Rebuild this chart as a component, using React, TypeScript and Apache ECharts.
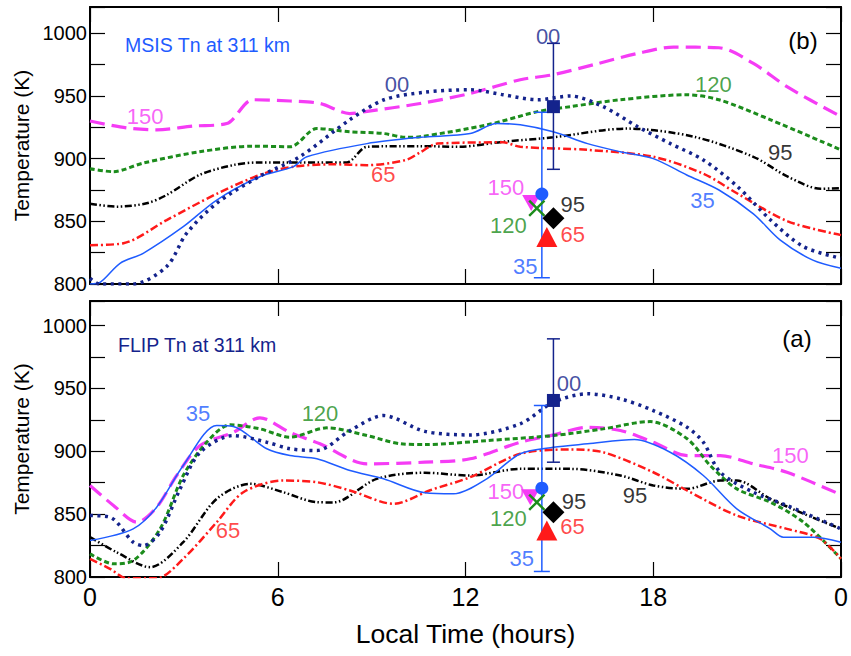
import React, { useEffect, useRef } from "react";
import * as echarts from "echarts";

// ---------- colours ----------
const MAGENTA = "#f53cf5";
const GREEN = "#1c8c1c";
const BLACK = "#000000";
const RED = "#ff1a1a";
const BLUE = "#1f5cff";
const NAVY = "#14238c";

// ---------- x axis ----------
const xTicks = [0, 6, 12, 18, 24];
const xTickLabels = ["0", "6", "12", "18", "0"];

// ---------- MSIS (top panel, b) ----------
const msis150: [number, number][] = [[0, 930], [1.17, 924.5], [2.13, 923], [3.3, 926], [4.37, 928], [5.2, 947], [6.4, 946], [7.35, 944], [8.3, 936], [8.8, 937.5], [10.55, 944], [12.15, 952], [13.75, 963], [14.8, 967], [16.1, 975], [17.5, 984], [18.65, 989], [20.1, 988.5], [21.2, 976], [22.3, 957], [24, 933.5]];
const msis120: [number, number][] = [[0, 892], [0.74, 889.6], [1.7, 896.5], [3.5, 905.5], [5.2, 910], [6.4, 909.5], [7.25, 924], [8.3, 921.5], [9.4, 920], [10.1, 917], [10.55, 917.5], [12.7, 927], [14.3, 937.5], [15.35, 941.5], [16.95, 947], [19.07, 951], [20.1, 947], [21.75, 931], [24, 907]];
const msis95: [number, number][] = [[0, 864], [0.85, 861.7], [1.81, 864.4], [2.45, 871], [3.5, 887], [4.6, 895], [5.4, 897], [6.7, 897], [8.2, 897], [8.85, 909.5], [10.55, 910], [11.8, 909.5], [13.2, 913.5], [14.8, 917], [17.15, 924], [19.3, 917.5], [21.2, 901.5], [22.3, 885.6], [23.35, 876], [24, 876.5]];
const msis65: [number, number][] = [[0, 831], [1.07, 832.5], [2.45, 851], [4.05, 872], [5.43, 887], [6.5, 893.6], [7.8, 895.5], [8.85, 894.8], [10.1, 899], [10.55, 905], [11.1, 912], [13.2, 913], [13.75, 909.5], [15.9, 907], [18, 901.5], [19.6, 888], [20.7, 872], [22.3, 850], [24, 839]];
const msis35: [number, number][] = [[0, 800], [0.3, 801], [0.96, 816.5], [1.7, 824.5], [2.98, 845.7], [4.05, 867], [5.43, 885.6], [6.5, 893.6], [6.93, 901.5], [8.85, 912], [10.55, 917], [12.15, 920], [13, 928], [13.75, 927], [14.8, 921.5], [15.9, 912], [16.95, 905.5], [18, 900], [19.07, 887], [20.1, 875], [21.2, 856], [22.06, 835], [23.1, 819], [24, 812.5]];
const msis00: [number, number][] = [[0, 804.5], [0.3, 800], [1.38, 800], [2.45, 814], [3.09, 840.5], [4.05, 864.4], [5.43, 886], [6.7, 901.5], [8.3, 931], [9.4, 947], [10.7, 953], [12.15, 955], [13.2, 951], [14.3, 947], [15.35, 950], [16.4, 941.5], [17.5, 925.5], [18.55, 912], [19.6, 899], [20.7, 877.6], [21.75, 851], [22.8, 829.8], [24, 820.5]];

// ---------- FLIP (bottom panel, a) ----------
const flip150: [number, number][] = [[0, 872.8], [0.75, 856.9], [1.5, 843.6], [2.13, 855.5], [2.77, 880.7], [3.52, 904.6], [4.58, 915], [5.43, 926.6], [6.39, 915], [7.35, 906], [8.85, 890], [10.7, 891.3], [12.15, 894], [13.75, 907.2], [14.81, 913], [15.9, 919], [16.95, 916.5], [18, 907.2], [19.08, 896.6], [20.14, 896.6], [21.2, 890], [22.27, 883.3], [24, 865.4]];
const flip120: [number, number][] = [[0, 818.4], [0.75, 810.5], [1.38, 813], [2.24, 838.3], [2.98, 880.7], [3.73, 907.2], [4.48, 921], [5.43, 917.8], [6.39, 911.2], [7.57, 918.6], [8.85, 912.5], [9.91, 906], [10.7, 905.3], [12.68, 908.5], [14.81, 912.5], [16.4, 917.8], [17.9, 923.6], [19.08, 910], [19.82, 888.7], [20.67, 870.1], [21.74, 859.5], [22.8, 843.6], [24, 814.5]];
const flip95: [number, number][] = [[0, 831.7], [0.85, 819.7], [1.92, 807.8], [2.98, 827.7], [4.05, 862.2], [5.12, 874.1], [6.18, 867.4], [7.25, 859.5], [7.78, 859.3], [9.16, 878], [10.7, 882.9], [12.15, 880.7], [13.75, 886], [15.35, 886], [16.95, 880.7], [18, 872.8], [19.08, 870.1], [20.14, 876.7], [20.67, 876.7], [21.74, 862.2], [22.8, 850.3], [24, 838.3]];
const flip65: [number, number][] = [[0, 814.5], [0.64, 806.5], [1.17, 799], [2.13, 799], [2.98, 814.5], [4.05, 843.6], [4.9, 867.4], [6.18, 876.7], [7.25, 875.4], [8.31, 868.8], [9.7, 858.2], [10.87, 869], [12.15, 879.4], [13.75, 898], [15.35, 901.4], [16.4, 899.2], [18, 883.3], [19.08, 868.8], [20.67, 848.9], [22.27, 838.3], [23.33, 830.4], [24, 814.5]];
const flip35: [number, number][] = [[0, 829], [1.38, 838.3], [2.13, 855.5], [2.98, 888.7], [4.05, 920.5], [4.58, 919.7], [5.65, 902], [6.39, 896.6], [7.25, 894], [8.31, 884.7], [9.38, 878.1], [10.7, 867], [11.62, 866.2], [12.68, 878.1], [13.75, 898], [14.81, 903.2], [15.9, 905.9], [17.4, 909.3], [18.54, 899.2], [19.6, 880.7], [20.67, 854.2], [21.74, 838.3], [22.16, 831.7], [23.12, 831.7], [24, 827.7]];
const flip00: [number, number][] = [[0, 848.9], [0.64, 847.6], [1.38, 827.7], [1.7, 825], [2.24, 835.6], [2.88, 870.1], [3.52, 899.2], [4.58, 912.5], [5.65, 907.2], [6.39, 902], [7.25, 900.6], [8.31, 916.5], [9.38, 928.4], [10.7, 915.8], [12.15, 913], [13.75, 921.8], [14.81, 939], [15.9, 945.7], [16.95, 941.7], [18, 932.4], [19.08, 919.1], [19.6, 907.2], [20.14, 883.3], [21.2, 867.4], [22.27, 856.9], [24, 838.3]];

// ---------- observed points [hour, T] and error bars [hour, low, high] ----------
const msisPt00 = [14.81, 941.5];
const msisErr00 = [14.81, 891.5, 992];
const msisPt35 = [14.44, 871.8];
const msisErr35 = [14.44, 805, 937];
const msisPt150 = [14.1, 864.6];
const msisPt120 = [14.28, 860.4];
const msisPt95 = [14.81, 852.4];
const msisPt65 = [14.6, 837.5];

const flipPt00 = [14.81, 940.4];
const flipErr00 = [14.81, 891.3, 989.4];
const flipPt35 = [14.44, 870.6];
const flipErr35 = [14.44, 804.4, 936.4];
const flipPt150 = [14.07, 863.5];
const flipPt120 = [14.28, 859.5];
const flipPt95 = [14.81, 851.5];
const flipPt65 = [14.6, 837];

// ---------- text annotations [hour, T, text] ----------
const msisLabels: [number, number, string, string][] = [
  [9.81, 958.9, "00", NAVY],
  [1.76, 933.3, "150", MAGENTA],
  [9.37, 887, "65", RED],
  [19.92, 958.9, "120", GREEN],
  [22.06, 904.6, "95", BLACK],
  [19.57, 867, "35", BLUE],
  [14.64, 997.2, "00", NAVY],
  [13.29, 876.6, "150", MAGENTA],
  [13.37, 846.5, "120", GREEN],
  [15.43, 863.1, "95", BLACK],
  [15.43, 839.5, "65", RED],
  [13.91, 814, "35", BLUE],
];
const flipLabels: [number, number, string, string][] = [
  [3.45, 930, "35", BLUE],
  [7.35, 930, "120", GREEN],
  [4.41, 837, "65", RED],
  [17.42, 864.8, "95", BLACK],
  [22.38, 896.7, "150", MAGENTA],
  [15.31, 953.6, "00", NAVY],
  [13.29, 867.6, "150", MAGENTA],
  [13.37, 846.3, "120", GREEN],
  [15.47, 860.2, "95", BLACK],
  [15.42, 840.3, "65", RED],
  [13.8, 814.5, "35", BLUE],
];

const FONT = "Liberation Sans, Arial, Helvetica, sans-serif";

const X_PATH =
  "path://M0,1 L1,0 L5,4 L9,0 L10,1 L6,5 L10,9 L9,10 L5,6 L1,10 L0,9 L4,5 Z";

function line(data: [number, number][], color: string, width: number, type: any, g: number) {
  return {
    type: "line",
    data,
    xAxisIndex: g * 2,
    yAxisIndex: g * 2,
    symbol: "none",
    showSymbol: false,
    smooth: 0.3,
    lineStyle: { color, width, type, cap: "butt" },
    z: 2,
  };
}

function errBar(d: number[], color: string, halfCap: number, g: number) {
  return {
    type: "custom",
    xAxisIndex: g * 2,
    yAxisIndex: g * 2,
    data: [d],
    z: 3,
    renderItem: (_p: any, api: any) => {
      const x = api.value(0);
      const lo = api.coord([x, api.value(1)]);
      const hi = api.coord([x, api.value(2)]);
      const st = { stroke: color, lineWidth: 1.5 };
      return {
        type: "group",
        children: [
          { type: "line", shape: { x1: lo[0], y1: lo[1], x2: hi[0], y2: hi[1] }, style: st },
          { type: "line", shape: { x1: lo[0] - halfCap, y1: lo[1], x2: lo[0] + halfCap, y2: lo[1] }, style: st },
          { type: "line", shape: { x1: hi[0] - halfCap, y1: hi[1], x2: hi[0] + halfCap, y2: hi[1] }, style: st },
        ],
      };
    },
  };
}

function marker(d: number[], symbol: string, size: any, color: string, g: number, rotate = 0) {
  return {
    type: "scatter",
    xAxisIndex: g * 2,
    yAxisIndex: g * 2,
    data: [d],
    symbol,
    symbolSize: size,
    symbolRotate: rotate,
    itemStyle: { color, opacity: 1 },
    z: 4,
  };
}

function labels(list: [number, number, string, string][], g: number) {
  return {
    type: "scatter",
    xAxisIndex: g * 2,
    yAxisIndex: g * 2,
    symbolSize: 1,
    itemStyle: { color: "transparent" },
    z: 5,
    data: list.map((l) => ({
      name: l[2],
      value: [l[0], l[1]],
      label: { color: l[3] },
    })),
    label: {
      show: true,
      position: "inside",
      formatter: "{b}",
      fontSize: 22,
      fontFamily: FONT,
    },
  };
}

function panelSeries(
  g: number,
  c150: [number, number][], c120: [number, number][], c95: [number, number][],
  c65: [number, number][], c35: [number, number][], c00: [number, number][],
  e35: number[], e00: number[],
  p35: number[], p150: number[], p120: number[], p95: number[], p65: number[], p00: number[],
  lbl: [number, number, string, string][]
) {
  return [
    line(c150, MAGENTA, 3.2, [15, 7], g),
    line(c120, GREEN, 3, [5, 3], g),
    line(c95, BLACK, 2.5, [7, 2.5, 1.5, 2.5, 1.5, 2.5], g),
    line(c65, RED, 2.5, [8, 3, 2, 3], g),
    line(c35, BLUE, 1.5, "solid", g),
    line(c00, NAVY, 3.5, [3, 4.5], g),
    errBar(e35, BLUE, 8, g),
    errBar(e00, NAVY, 6.5, g),
    marker(p150, "triangle", [18, 16], MAGENTA, g, 180),
    marker(p35, "circle", 13, BLUE, g),
    marker(p120, X_PATH, [17, 17], GREEN, g),
    marker(p95, "diamond", [22, 22], BLACK, g),
    marker(p65, "triangle", [21, 20], RED, g),
    marker(p00, "rect", [13, 13], NAVY, g),
    labels(lbl, g),
  ];
}

function xAx(g: number, top: boolean) {
  const showLabels = !top && g === 1;
  return {
    type: "value",
    gridIndex: g,
    position: top ? "top" : "bottom",
    min: 0,
    max: 24,
    interval: 6,
    axisLine: { show: true, onZero: false, lineStyle: { color: "#000", width: 2 } },
    axisTick: { show: true, inside: true, length: 15, lineStyle: { color: "#000", width: 1.2 } },
    splitLine: { show: false },
    axisLabel: {
      show: showLabels,
      fontSize: 25,
      color: "#000",
      fontFamily: FONT,
      margin: 7,
      formatter: (v: number) => xTickLabels[xTicks.indexOf(v)] ?? "",
    },
    name: showLabels ? "Local Time (hours)" : "",
    nameLocation: "middle",
    nameGap: 43,
    nameTextStyle: { fontSize: 26.5, color: "#000", fontFamily: FONT },
  };
}

function yAx(g: number, right: boolean, max: number) {
  return {
    type: "value",
    gridIndex: g,
    position: right ? "right" : "left",
    min: 800,
    max,
    interval: 25,
    axisLine: { show: true, onZero: false, lineStyle: { color: "#000", width: 2 } },
    axisTick: { show: true, inside: true, length: 15, lineStyle: { color: "#000", width: 1.2 } },
    splitLine: { show: false },
    axisLabel: {
      show: !right,
      fontSize: 20,
      color: "#000",
      fontFamily: FONT,
      margin: 3,
      formatter: (v: number) => (v % 50 === 0 && v <= 1000 ? String(v) : ""),
    },
    name: right ? "" : "Temperature (K)",
    nameLocation: "middle",
    nameGap: 55,
    nameRotate: 90,
    nameTextStyle: { fontSize: 21, color: "#000", fontFamily: FONT },
  };
}

export default function App() {
  const ref = useRef<HTMLDivElement>(null);
  useEffect(() => {
    if (!ref.current) return;
    const chart = echarts.init(ref.current, undefined, { renderer: "svg" });
    const option: any = {
      animation: false,
      backgroundColor: "#ffffff",
      textStyle: { fontFamily: FONT },
      grid: [
        { left: 90, top: 7, width: 751, height: 277 },
        { left: 90, top: 301, width: 751, height: 276 },
      ],
      xAxis: [xAx(0, false), xAx(0, true), xAx(1, false), xAx(1, true)],
      yAxis: [yAx(0, false, 1021), yAx(0, true, 1021), yAx(1, false, 1019.5), yAx(1, true, 1019.5)],
      graphic: [
        { type: "text", x: 125, y: 45, style: { text: "MSIS Tn at 311 km", fill: BLUE, fontSize: 19.5, fontFamily: FONT, verticalAlign: "middle" } },
        { type: "text", x: 803, y: 40, style: { text: "(b)", fill: "#000", fontSize: 24, fontFamily: FONT, align: "center", verticalAlign: "middle" } },
        { type: "text", x: 118, y: 345, style: { text: "FLIP Tn at 311 km", fill: NAVY, fontSize: 19.5, fontFamily: FONT, verticalAlign: "middle" } },
        { type: "text", x: 797, y: 338, style: { text: "(a)", fill: "#000", fontSize: 24, fontFamily: FONT, align: "center", verticalAlign: "middle" } },
      ],
      series: [
        ...panelSeries(0, msis150, msis120, msis95, msis65, msis35, msis00, msisErr35, msisErr00,
          msisPt35, msisPt150, msisPt120, msisPt95, msisPt65, msisPt00, msisLabels),
        ...panelSeries(1, flip150, flip120, flip95, flip65, flip35, flip00, flipErr35, flipErr00,
          flipPt35, flipPt150, flipPt120, flipPt95, flipPt65, flipPt00, flipLabels),
      ],
    };
    chart.setOption(option);
    return () => chart.dispose();
  }, []);
  return (
    <div
      ref={ref}
      style={{ position: "fixed", left: 0, top: 0, width: 851, height: 656, background: "#fff" }}
    />
  );
}
